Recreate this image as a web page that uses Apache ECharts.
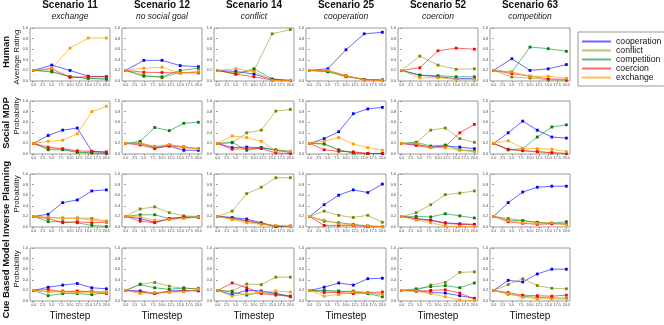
<!DOCTYPE html>
<html>
<head>
<meta charset="utf-8">
<script src="https://cdn.jsdelivr.net/npm/echarts@6/dist/echarts.min.js"></script>
<style>
html, body { margin: 0; padding: 0; background: #fff; }
#chart { width: 664px; height: 325px; }
</style>
</head>
<body>
<div id="chart"></div>
<script>
// columns and rows of the small multiples
var scenarios = ['Scenario 11', 'Scenario 12', 'Scenario 14', 'Scenario 25', 'Scenario 52', 'Scenario 63'];
var goals = ['exchange', 'no social goal', 'conflict', 'cooperation', 'coercion', 'competition'];
var seriesNames = ['cooperation', 'conflict', 'competition', 'coercion', 'exchange'];
var humanSteps = [0, 5, 10, 15, 20];
var modelSteps = [0, 4, 8, 12, 16, 20];
var xTicks = [0, 2.5, 5, 7.5, 10, 12.5, 15, 17.5, 20];

// each panel: [cooperation, conflict, competition, coercion, exchange]
var human11 = [[0.2, 0.3, 0.2, 0.09, 0.08], [0.2, 0.17, 0.08, 0.05, 0.03], [0.2, 0.18, 0.08, 0.05, 0.04], [0.2, 0.23, 0.07, 0.08, 0.08], [0.2, 0.24, 0.62, 0.81, 0.81]];
var human12 = [[0.2, 0.39, 0.39, 0.29, 0.27], [0.2, 0.11, 0.06, 0.16, 0.15], [0.2, 0.09, 0.08, 0.2, 0.24], [0.2, 0.165, 0.16, 0.15, 0.17], [0.2, 0.24, 0.26, 0.15, 0.18]];
var human14 = [[0.2, 0.18, 0.13, 0.03, 0.01], [0.2, 0.15, 0.2, 0.89, 0.97], [0.2, 0.13, 0.23, 0.04, 0.01], [0.2, 0.13, 0.08, 0.02, 0.01], [0.2, 0.23, 0.18, 0.01, 0.01]];
var human25 = [[0.2, 0.23, 0.59, 0.89, 0.92], [0.2, 0.17, 0.08, 0.03, 0.02], [0.2, 0.18, 0.09, 0.03, 0.02], [0.2, 0.2, 0.1, 0.025, 0.01], [0.2, 0.2, 0.1, 0.02, 0.01]];
var human52 = [[0.2, 0.11, 0.08, 0.045, 0.045], [0.2, 0.47, 0.3, 0.22, 0.23], [0.2, 0.11, 0.1, 0.08, 0.08], [0.2, 0.25, 0.57, 0.62, 0.6], [0.2, 0.06, 0.06, 0.03, 0.03]];
var human63 = [[0.2, 0.42, 0.2, 0.23, 0.31], [0.2, 0.075, 0.056, 0.025, 0.01], [0.2, 0.17, 0.64, 0.61, 0.56], [0.2, 0.14, 0.09, 0.04, 0.03], [0.2, 0.17, 0.09, 0.09, 0.05]];

var mdp11 = [[0.2, 0.35, 0.45, 0.49, 0.05, 0.03], [0.2, 0.1, 0.09, 0.04, 0.02, 0.01], [0.2, 0.08, 0.08, 0.03, 0.02, 0.01], [0.2, 0.13, 0.1, 0.06, 0.05, 0.04], [0.2, 0.24, 0.26, 0.38, 0.8, 0.9]];
var mdp12 = [[0.2, 0.2, 0.12, 0.15, 0.07, 0.07], [0.2, 0.21, 0.13, 0.17, 0.14, 0.1], [0.2, 0.24, 0.5, 0.44, 0.58, 0.6], [0.2, 0.17, 0.1, 0.16, 0.12, 0.1], [0.2, 0.2, 0.15, 0.18, 0.13, 0.1]];
var mdp14 = [[0.2, 0.12, 0.13, 0.12, 0.07, 0.03], [0.2, 0.21, 0.4, 0.45, 0.81, 0.84], [0.2, 0.22, 0.07, 0.12, 0.08, 0.05], [0.2, 0.09, 0.1, 0.1, 0.02, 0.01], [0.2, 0.34, 0.31, 0.24, 0.06, 0.05]];
var mdp25 = [[0.2, 0.29, 0.42, 0.76, 0.85, 0.88], [0.2, 0.19, 0.07, 0.02, 0.01, 0.01], [0.2, 0.19, 0.08, 0.02, 0.01, 0.01], [0.2, 0.08, 0.05, 0.04, 0.01, 0.01], [0.2, 0.24, 0.31, 0.19, 0.12, 0.07]];
var mdp52 = [[0.2, 0.18, 0.13, 0.15, 0.13, 0.1], [0.2, 0.21, 0.45, 0.49, 0.29, 0.22], [0.2, 0.22, 0.15, 0.17, 0.08, 0.06], [0.2, 0.16, 0.12, 0.14, 0.4, 0.56], [0.2, 0.2, 0.12, 0.12, 0.07, 0.04]];
var mdp63 = [[0.2, 0.4, 0.62, 0.45, 0.32, 0.3], [0.2, 0.08, 0.06, 0.04, 0.02, 0.01], [0.2, 0.08, 0.1, 0.32, 0.51, 0.55], [0.2, 0.09, 0.065, 0.045, 0.025, 0.01], [0.2, 0.25, 0.11, 0.1, 0.09, 0.045]];

var ip11 = [[0.2, 0.24, 0.46, 0.51, 0.68, 0.7], [0.2, 0.18, 0.17, 0.17, 0.16, 0.11], [0.2, 0.1, 0.1, 0.08, 0.03, 0.01], [0.2, 0.16, 0.08, 0.1, 0.08, 0.09], [0.2, 0.18, 0.16, 0.16, 0.13, 0.1]];
var ip12 = [[0.2, 0.16, 0.09, 0.16, 0.18, 0.18], [0.2, 0.34, 0.38, 0.27, 0.21, 0.2], [0.2, 0.23, 0.23, 0.16, 0.19, 0.19], [0.2, 0.11, 0.08, 0.15, 0.18, 0.18], [0.2, 0.19, 0.13, 0.14, 0.16, 0.19]];
var ip14 = [[0.2, 0.18, 0.15, 0.08, 0.01, 0.01], [0.2, 0.3, 0.63, 0.75, 0.93, 0.93], [0.2, 0.17, 0.12, 0.07, 0.01, 0.01], [0.2, 0.16, 0.11, 0.06, 0.02, 0.02], [0.2, 0.14, 0.08, 0.05, 0.03, 0.01]];
var ip25 = [[0.2, 0.42, 0.6, 0.7, 0.65, 0.81], [0.2, 0.3, 0.22, 0.18, 0.22, 0.09], [0.2, 0.11, 0.08, 0.05, 0.02, 0.01], [0.2, 0.03, 0.03, 0.03, 0.005, 0.005], [0.2, 0.13, 0.06, 0.04, 0.02, 0.01]];
var ip52 = [[0.2, 0.16, 0.13, 0.08, 0.06, 0.05], [0.2, 0.27, 0.42, 0.61, 0.64, 0.68], [0.2, 0.2, 0.19, 0.25, 0.21, 0.17], [0.2, 0.15, 0.12, 0.07, 0.05, 0.04], [0.2, 0.13, 0.08, 0.02, 0.01, 0.01]];
var ip63 = [[0.2, 0.46, 0.66, 0.75, 0.77, 0.77], [0.2, 0.16, 0.12, 0.08, 0.07, 0.05], [0.2, 0.13, 0.12, 0.09, 0.07, 0.1], [0.2, 0.1, 0.07, 0.05, 0.06, 0.06], [0.2, 0.12, 0.08, 0.07, 0.08, 0.04]];

var cue11 = [[0.2, 0.26, 0.3, 0.33, 0.25, 0.23], [0.2, 0.18, 0.19, 0.17, 0.19, 0.17], [0.2, 0.1, 0.14, 0.14, 0.12, 0.16], [0.2, 0.22, 0.17, 0.19, 0.17, 0.14], [0.2, 0.17, 0.17, 0.16, 0.17, 0.16]];
var cue12 = [[0.2, 0.19, 0.14, 0.19, 0.2, 0.19], [0.2, 0.32, 0.35, 0.28, 0.23, 0.24], [0.2, 0.31, 0.25, 0.22, 0.25, 0.22], [0.2, 0.17, 0.14, 0.17, 0.19, 0.2], [0.2, 0.14, 0.16, 0.17, 0.17, 0.22]];
var cue14 = [[0.2, 0.12, 0.2, 0.19, 0.14, 0.09], [0.2, 0.19, 0.32, 0.31, 0.45, 0.45], [0.2, 0.17, 0.11, 0.16, 0.14, 0.08], [0.2, 0.34, 0.25, 0.14, 0.11, 0.09], [0.2, 0.09, 0.14, 0.17, 0.19, 0.17]];
var cue25 = [[0.2, 0.26, 0.34, 0.3, 0.42, 0.43], [0.2, 0.19, 0.17, 0.19, 0.16, 0.12], [0.2, 0.2, 0.19, 0.17, 0.14, 0.08], [0.2, 0.16, 0.16, 0.14, 0.16, 0.17], [0.2, 0.09, 0.12, 0.17, 0.16, 0.12]];
var cue52 = [[0.2, 0.2, 0.16, 0.15, 0.1, 0.05], [0.2, 0.2, 0.3, 0.35, 0.54, 0.55], [0.2, 0.23, 0.27, 0.29, 0.25, 0.34], [0.2, 0.18, 0.2, 0.21, 0.15, 0.04], [0.2, 0.19, 0.14, 0.08, 0.02, 0.01]];
var cue63 = [[0.2, 0.39, 0.36, 0.51, 0.6, 0.6], [0.2, 0.31, 0.42, 0.29, 0.24, 0.23], [0.2, 0.13, 0.09, 0.07, 0.06, 0.05], [0.2, 0.16, 0.11, 0.1, 0.09, 0.11], [0.2, 0.14, 0.07, 0.04, 0.04, 0.04]];

var rows = [
    { label: 'Human', sub: 'Average Rating', steps: humanSteps, panels: [human11, human12, human14, human25, human52, human63], labelY: 52, subY: 57 },
    { label: 'Social MDP', sub: 'Probability', steps: modelSteps, panels: [mdp11, mdp12, mdp14, mdp25, mdp52, mdp63], labelY: 123, subY: 116 },
    { label: 'Inverse Planning', sub: 'Probability', steps: modelSteps, panels: [ip11, ip12, ip14, ip25, ip52, ip63], labelY: 199, subY: 194 },
    { label: 'Cue Based Model', sub: 'Probability', steps: modelSteps, panels: [cue11, cue12, cue14, cue25, cue52, cue63], labelY: 279, subY: 269 }
];

var lineColors = ['rgba(0,0,255,0.6)', 'rgba(140,140,0,0.55)', 'rgba(0,140,50,0.6)', 'rgba(255,0,0,0.6)', 'rgba(255,165,0,0.7)'];
var markColors = ['#0000ff', '#808000', '#008000', '#ff0000', '#ff9900'];

var font = 'Liberation Sans, Arial, sans-serif';
var gridTops = [28, 101, 174, 248];
var fmt = function (v) { return v.toFixed(1); };

var grids = [], xAxes = [], yAxes = [], series = [], titles = [], graphics = [];

scenarios.forEach(function (s, c) {
    titles.push({
        text: s, subtext: goals[c],
        left: 70 + 92 * c, top: 0, textAlign: 'center', padding: 0, itemGap: 2,
        textStyle: { fontSize: 10, fontWeight: 'bold', color: '#111', fontFamily: font },
        subtextStyle: { fontSize: 8.5, fontStyle: 'italic', color: '#222', fontFamily: font }
    });
});

rows.forEach(function (row, r) {
    graphics.push({
        type: 'text', x: 6, y: row.labelY, rotation: Math.PI / 2,
        style: { text: row.label, fontSize: 9.5, fontWeight: 'bold', fontFamily: font, fill: '#111', align: 'center', verticalAlign: 'middle' }
    });
    graphics.push({
        type: 'text', x: 17, y: row.subY, rotation: Math.PI / 2,
        style: { text: row.sub, fontSize: 8, fontFamily: font, fill: '#222', align: 'center', verticalAlign: 'middle' }
    });
    row.panels.forEach(function (panel, c) {
        var idx = grids.length;
        grids.push({
            left: 30 + 92 * c, top: gridTops[r], width: 80, height: 53,
            show: true, borderColor: '#999', borderWidth: 1
        });
        xAxes.push({
            type: 'value', gridIndex: idx, min: -1, max: 21,
            name: r === 3 ? 'Timestep' : '', nameLocation: 'middle', nameGap: 10,
            nameTextStyle: { fontSize: 10, color: '#111', fontFamily: font },
            axisLine: { show: false },
            axisTick: { show: true, length: 1.5, customValues: xTicks, lineStyle: { color: '#888' } },
            axisLabel: { fontSize: 3.6, color: '#444', margin: 2, customValues: xTicks, formatter: fmt },
            splitLine: { show: false }
        });
        yAxes.push({
            type: 'value', gridIndex: idx, min: 0, max: 1, interval: 0.2,
            axisLine: { show: false },
            axisTick: { show: true, length: 1.5, lineStyle: { color: '#888' } },
            axisLabel: { fontSize: 3.8, color: '#444', margin: 2, formatter: fmt },
            splitLine: { show: false }
        });
        seriesNames.forEach(function (name, k) {
            series.push({
                type: 'line', name: name, xAxisIndex: idx, yAxisIndex: idx,
                data: row.steps.map(function (x, i) { return [x, panel[k][i]]; }),
                symbol: 'rect', symbolSize: 2.8,
                lineStyle: { width: 1, color: lineColors[k] },
                itemStyle: { color: markColors[k] },
                emphasis: { disabled: true }
            });
        });
    });
});

var chart = echarts.init(document.getElementById('chart'));

var option = {
    animation: false,
    textStyle: { fontFamily: font },
    title: titles,
    grid: grids,
    xAxis: xAxes,
    yAxis: yAxes,
    legend: {
        orient: 'vertical', left: 578, top: 32,
        padding: [5, 8, 4, 4], itemGap: 0,
        itemWidth: 29, itemHeight: 2, icon: 'rect',
        borderColor: '#999', borderWidth: 1,
        textStyle: { fontSize: 8.7, lineHeight: 8.75, color: '#111', fontFamily: font },
        data: seriesNames.map(function (n, k) {
            return { name: n, itemStyle: { color: lineColors[k] } };
        })
    },
    graphic: graphics,
    series: series
};

chart.setOption(option);

window.onresize = chart.resize;
</script>
</body>
</html>
